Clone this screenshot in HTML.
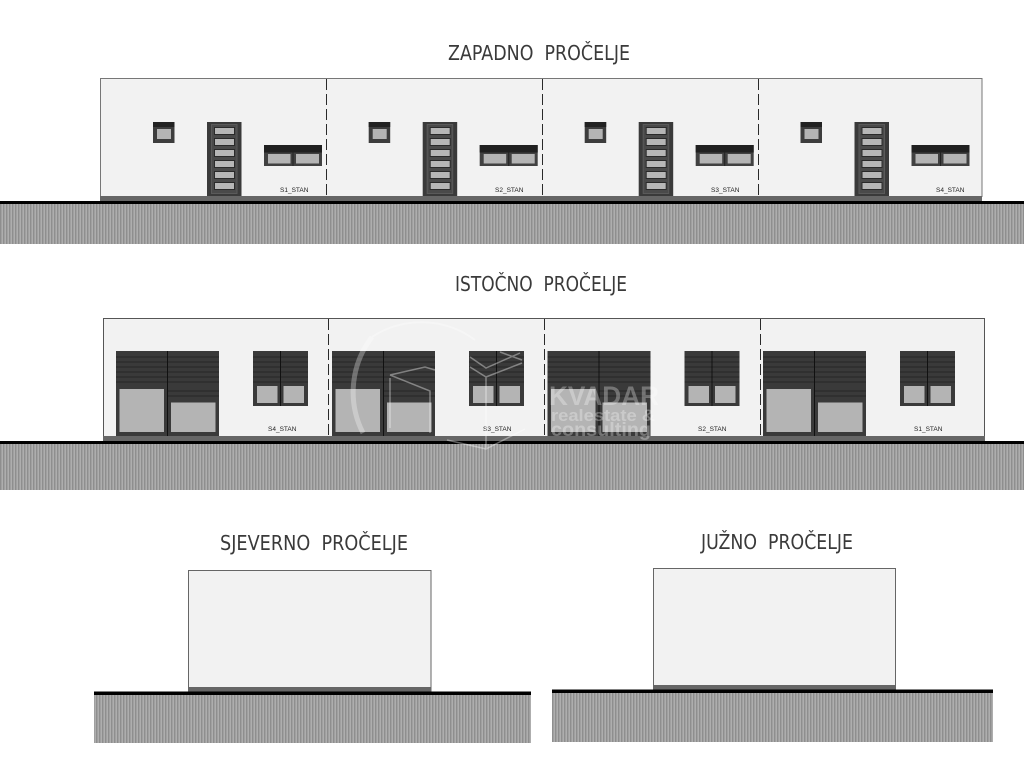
<!DOCTYPE html>
<html><head><meta charset="utf-8"><style>
html,body{margin:0;padding:0;background:#fff;width:1024px;height:768px;overflow:hidden}
svg{display:block}
.t{font-family:"DejaVu Sans","Liberation Sans",sans-serif;font-size:20.5px;fill:#3a3a3a;font-weight:normal}
.l{font-family:"Liberation Sans",sans-serif;font-size:6.5px;fill:#222}
.wm{font-family:"Liberation Sans",sans-serif;font-weight:bold;fill:#fff;fill-opacity:.3}
</style></head><body>
<svg width="1024" height="768" viewBox="0 0 1024 768" xmlns="http://www.w3.org/2000/svg">
<defs>
<pattern id="h" width="3" height="10" patternUnits="userSpaceOnUse">
<rect width="3" height="10" fill="#a0a0a0"/><rect x="0" width="1" height="10" fill="#8e8e8e"/><rect x="2" width="1" height="10" fill="#aeaeae"/>
</pattern>
<g id="wunit">
<rect x="153" y="122" width="21.5" height="21" fill="#3d3d3d"/><rect x="153" y="122" width="21.5" height="5" fill="#222"/>
<rect x="157" y="129" width="14" height="10" fill="#b4b4b4"/>
<rect x="207" y="122" width="34.500" height="74" fill="#3a3a3a"/>
<rect x="211.500" y="124.500" width="25.500" height="69" fill="#4a4a4a" stroke="#5a5a5a" stroke-width="1"/>
<g fill="#b6b6b6" stroke="#2a2a2a" stroke-width="1">
<rect x="214.500" y="127.500" width="20" height="7"/><rect x="214.500" y="138.500" width="20" height="7"/><rect x="214.500" y="149.500" width="20" height="7"/><rect x="214.500" y="160.500" width="20" height="7"/><rect x="214.500" y="171.500" width="20" height="7"/><rect x="214.500" y="182.500" width="20" height="7"/>
</g>
<rect x="264" y="145" width="58" height="21" fill="#414141"/><rect x="264" y="145" width="58" height="7.500" fill="#202020"/>
<rect x="268" y="154" width="22.500" height="9.500" fill="#b4b4b4"/><rect x="296" y="154" width="23" height="9.500" fill="#b4b4b4"/>
<path d="M293 152V166" stroke="#222" stroke-width="1"/>
</g>
<g id="eunit">
<rect x="116" y="351" width="103" height="85" fill="#3a3a3a"/>
<g stroke="#262626" stroke-width="1"><path d="M116 357H219M116 362H219M116 367H219M116 372H219M116 377H219M116 382H219M167 391H219M167 396H219"/></g>
<path d="M167.500 351V436" stroke="#111" stroke-width="1"/>
<rect x="119.500" y="389" width="44.500" height="43" fill="#b4b4b4"/>
<rect x="171" y="402.500" width="44.500" height="29.500" fill="#b4b4b4"/>
<rect x="253" y="351" width="55" height="55" fill="#3a3a3a"/>
<g stroke="#262626" stroke-width="1"><path d="M253 357H308M253 362H308M253 367H308M253 372H308M253 377H308M253 382H308"/></g>
<path d="M280.500 351V406" stroke="#111" stroke-width="1"/>
<rect x="257" y="386" width="20.500" height="17" fill="#b4b4b4"/><rect x="283.500" y="386" width="20.500" height="17" fill="#b4b4b4"/>
</g>
</defs>
<rect width="1024" height="768" fill="#fff"/>

<text class="t" x="448" y="60" textLength="182" lengthAdjust="spacingAndGlyphs">ZAPADNO&#160;&#160;PROČELJE</text>
<rect x="0" y="204" width="1024" height="40" fill="url(#h)"/>
<rect x="100.500" y="78.500" width="881.500" height="118" fill="#f2f2f2" stroke="#777" stroke-width="1"/>
<rect x="100" y="196" width="882" height="5" fill="#666"/>
<rect x="0" y="201" width="1024" height="3" fill="#000"/>
<g stroke="#2a2a2a" stroke-width="1" stroke-dasharray="11 4"><path d="M326.500 79V196M542.500 79V196M758.500 79V196"/></g>
<use href="#wunit"/><use href="#wunit" x="215.700"/><use href="#wunit" x="431.700"/><use href="#wunit" x="647.500"/>
<text class="l" x="280" y="192">S1_STAN</text><text class="l" x="495" y="192">S2_STAN</text><text class="l" x="711" y="192">S3_STAN</text><text class="l" x="936" y="192">S4_STAN</text>

<text class="t" x="455" y="291" textLength="172" lengthAdjust="spacingAndGlyphs">ISTOČNO&#160;&#160;PROČELJE</text>
<rect x="0" y="444" width="1024" height="46" fill="url(#h)"/>
<rect x="103.500" y="318.500" width="881" height="118" fill="#f2f2f2" stroke="#555" stroke-width="1"/>
<rect x="103" y="436" width="882" height="5" fill="#666"/>
<rect x="0" y="441" width="1024" height="3" fill="#000"/>
<g stroke="#2a2a2a" stroke-width="1" stroke-dasharray="11 4"><path d="M328.500 319V436M544.500 319V436M760.500 319V436"/></g>
<use href="#eunit"/><use href="#eunit" x="216"/><use href="#eunit" x="431.500"/><use href="#eunit" x="647"/>
<text class="l" x="268" y="431">S4_STAN</text><text class="l" x="483" y="431">S3_STAN</text><text class="l" x="698" y="431">S2_STAN</text><text class="l" x="914" y="431">S1_STAN</text>

<g fill="none" stroke="#fff" stroke-opacity=".3">
<path d="M363 433A90 90 0 0 1 372 337" stroke-width="5"/>
<path d="M372 337A90 90 0 0 1 475 340" stroke-width="2"/>
<g stroke-width="1.500" stroke-opacity=".38">
<path d="M390 375L425 367L435 370M390 375L430 391V433M390 378V428"/>
<path d="M470 367L486 377L522 363M500 352L522 360M470 357L486 368L520 353M486 377V448"/>
<path d="M447 440L486 449L525 429"/>
</g>
</g>
<text class="wm" x="549" y="405" font-size="27" textLength="110" lengthAdjust="spacingAndGlyphs">KVADAR</text>
<text class="wm" x="551" y="421" font-size="17" textLength="104" lengthAdjust="spacingAndGlyphs">realestate &amp;</text>
<text class="wm" x="551" y="436" font-size="19" textLength="100" lengthAdjust="spacingAndGlyphs">consulting</text>

<text class="t" x="220" y="550" textLength="188" lengthAdjust="spacingAndGlyphs">SJEVERNO&#160;&#160;PROČELJE</text>
<rect x="94" y="695" width="437" height="48" fill="url(#h)"/>
<rect x="188.500" y="570.500" width="242.500" height="117" fill="#f2f2f2" stroke="#666" stroke-width="1"/>
<rect x="188" y="687" width="243.500" height="5" fill="#666"/>
<rect x="94" y="691.500" width="437" height="3.500" fill="#000"/>

<text class="t" x="701" y="549" textLength="152" lengthAdjust="spacingAndGlyphs">JUŽNO&#160;&#160;PROČELJE</text>
<rect x="552" y="693" width="441" height="49" fill="url(#h)"/>
<rect x="653.500" y="568.500" width="242" height="117" fill="#f2f2f2" stroke="#666" stroke-width="1"/>
<rect x="653" y="685" width="243" height="5" fill="#666"/>
<rect x="552" y="689.500" width="441" height="3.500" fill="#000"/>
</svg>
</body></html>
